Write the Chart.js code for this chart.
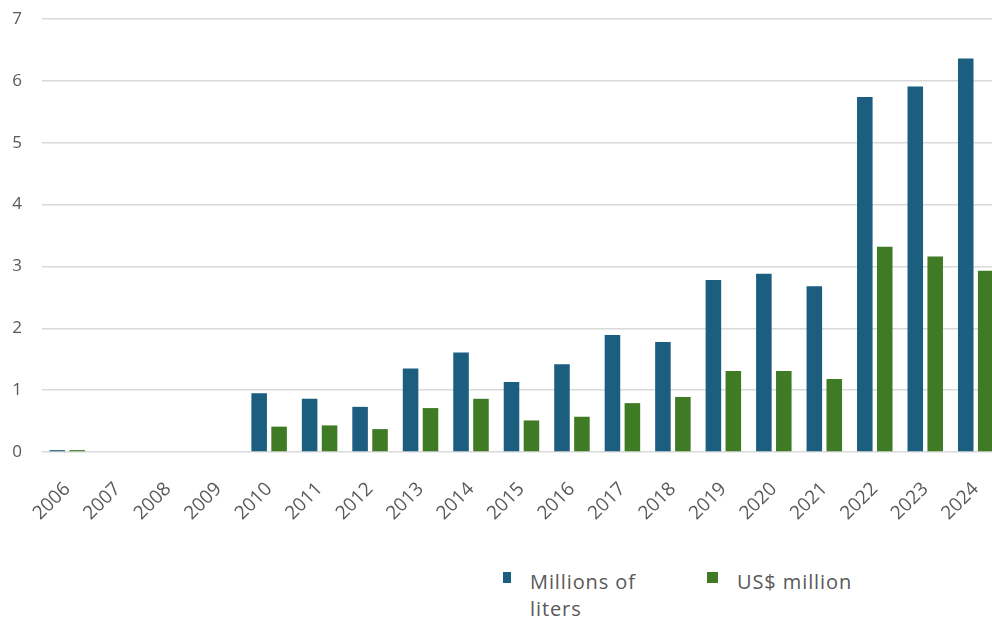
<!DOCTYPE html>
<html>
<head>
<meta charset="utf-8">
<script src="https://cdn.jsdelivr.net/npm/chart.js@4"></script>
<style>
    body { margin: 0; overflow: hidden; background: #ffffff; width: 992px; height: 623px; }
    #wrap { position: absolute; left: 0; top: 0; width: 1010px; height: 545px; }
    .legend { position: absolute; font-family: 'Open Sans', sans-serif; font-size: 20px; letter-spacing: 0.9px; color: #595959; line-height: 27px; }
    .box { position: absolute; width: 9px; height: 11px; }
</style>
</head>
<body>
<div id="wrap"><canvas id="volumeGraph"></canvas></div>

<div class="box" style="left:503px; top:572px; background:#1b5e80; width:8px;"></div>
<div class="legend" style="left:530px; top:568px;">Millions of<br>liters</div>
<div class="box" style="left:707px; top:572px; background:#3e7b24; width:11px;"></div>
<div class="legend" style="left:737px; top:568px;">US$ million</div>

<script>
var years = ['2006', '2007', '2008', '2009', '2010', '2011', '2012', '2013', '2014', '2015',
             '2016', '2017', '2018', '2019', '2020', '2021', '2022', '2023', '2024'];
var liters = [0.03, 0, 0, 0, 0.95, 0.86, 0.73, 1.35, 1.61, 1.13,
              1.42, 1.89, 1.78, 2.78, 2.88, 2.68, 5.74, 5.91, 6.36];
var usdMillion = [0.03, 0, 0, 0, 0.41, 0.43, 0.37, 0.71, 0.86, 0.51,
                  0.57, 0.79, 0.89, 1.31, 1.31, 1.18, 3.32, 3.16, 2.93];

var volumeConfig =
{
    type: 'bar',
    data: {
        labels: years,
        datasets: [{
            label: 'Millions of liters',
            data: liters,
            backgroundColor: '#1b5e80',
            borderWidth: 0,
            categoryPercentage: 0.79,
            barPercentage: 0.78
        }, {
            label: 'US$ million',
            data: usdMillion,
            backgroundColor: '#3e7b24',
            borderWidth: 0,
            categoryPercentage: 0.79,
            barPercentage: 0.78
        }]
    },
    options: {
        responsive: true,
        maintainAspectRatio: false,
        animation: false,
        layout: {
            padding: { top: 19, right: 6, left: 0, bottom: 0 }
        },
        plugins: {
            legend: { display: false },
            tooltip: { enabled: false }
        },
        scales: {
            x: {
                grid: { display: false },
                border: { display: false },
                ticks: {
                    color: '#595959',
                    font: { family: 'Open Sans', size: 19 },
                    maxRotation: 45,
                    minRotation: 45,
                    padding: 18
                },
                afterFit: function(scale) {
                    scale.height = 93;
                }
            },
            y: {
                min: 0,
                max: 7,
                grid: { color: '#d9d9d9', lineWidth: 1.5, drawTicks: false },
                border: { display: false },
                ticks: {
                    stepSize: 1,
                    color: '#595959',
                    font: { family: 'Open Sans', size: 17 },
                    padding: 20
                },
                afterFit: function(scale) {
                    scale.width = 42;
                    scale.paddingTop = 0;
                    scale.paddingBottom = 0;
                }
            }
        }
    }
}

const volumeCtx = document.getElementById('volumeGraph');
const volumeChart = new Chart(volumeCtx, volumeConfig);
</script>
</body>
</html>
